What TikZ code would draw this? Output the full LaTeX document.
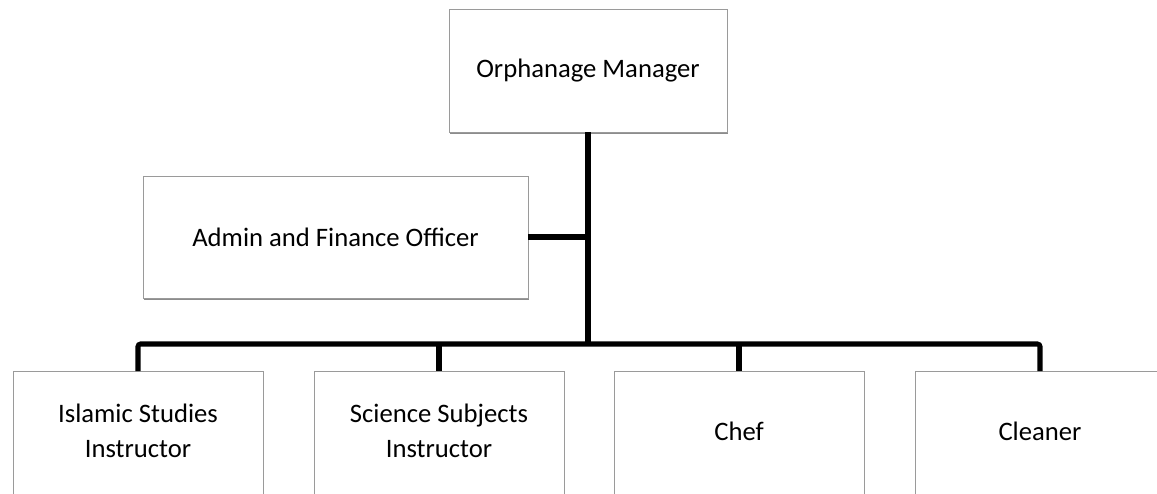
\documentclass[tikz,border=0pt]{standalone}
\usepackage{fontspec}
\setmainfont{Carlito}
\usetikzlibrary{shadows}
\definecolor{boxline}{HTML}{9A9A9A}
\tikzset{
  orgbox/.style={draw=boxline, line width=0.7pt, fill=white, inner sep=0pt, outer sep=0pt,
    align=center, font=\fontsize{20}{26.5}\selectfont,
    drop shadow={shadow xshift=0.6pt, shadow yshift=-1.6pt, opacity=0.45, fill=black}},
  lowbox/.style={orgbox, minimum width=187.5pt, minimum height=100pt, anchor=north},
  boxtext/.style={align=center, inner sep=0pt, font=\fontsize{20}{26.5}\selectfont},
  conn/.style={line width=3.8pt, black},
}
\begin{document}
\begin{tikzpicture}[x=0.75pt, y=-0.75pt]
\clip (0,0) rectangle (1157,493);
\fill[white] (0,0) rectangle (1157,493);
\node[orgbox, minimum width=208.5pt, minimum height=92.25pt] (mgr) at (588,70.5) {Orphanage Manager};
\node[orgbox, minimum width=288.75pt, minimum height=91.5pt] (adm) at (335.5,237) {Admin and Finance Officer};
\node[lowbox] (isl) at (138,371) {};
\node[lowbox] (sci) at (439,371) {};
\node[lowbox] (chf) at (739,371) {};
\node[lowbox] (cln) at (1040,371) {};
\node[boxtext] (islt) at (138,431) {Islamic Studies\\Instructor};
\node[boxtext] (scit) at (439,431) {Science Subjects\\Instructor};
\node[boxtext] (chft) at (739,431) {Chef};
\node[boxtext] (clnt) at (1040,431) {Cleaner};
\coordinate (j) at (588,344);
\draw[conn] (mgr.south) -- (j);
\draw[conn] (adm.east) -- (adm.east -| j);
\draw[conn, rounded corners=2pt] (isl.north) |- (j) -| (cln.north);
\draw[conn] (j -| sci.north) -- (sci.north);
\draw[conn] (j -| chf.north) -- (chf.north);
\end{tikzpicture}
\end{document}
